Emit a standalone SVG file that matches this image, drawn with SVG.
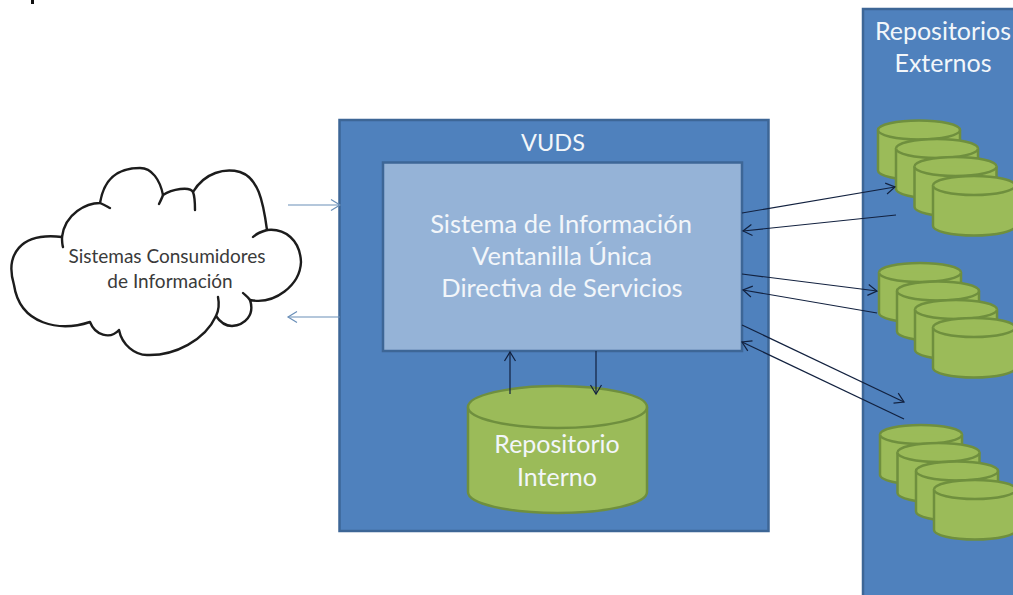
<svg xmlns="http://www.w3.org/2000/svg" width="1013" height="595" viewBox="0 0 1013 595">
<style>
.panel{fill:#4f81bd;stroke:#3d6696;stroke-width:2.5}
.inner{fill:#95b3d7;stroke:#3d6696;stroke-width:2.5}
.cyl{fill:#9bbb59;stroke:#6f8f3e;stroke-width:2.5}
.lbl{font-family:"Lato","Open Sans","Liberation Sans",sans-serif;fill:#f2f6fa;text-anchor:middle}
.big{font-size:25px}
.sys{font-size:25.500px}
.cloudtxt{font-family:"Lato","Open Sans","Liberation Sans",sans-serif;font-size:19px;fill:#3a3a3a;text-anchor:middle}
.dark{fill:none;stroke:#12213f;stroke-width:1.2;marker-end:url(#open)}
.blue{fill:none;stroke:#6a8fb8;stroke-width:1.2;marker-end:url(#openb)}
.cloud{fill:#fff;stroke:#1c1c1c;stroke-width:2.4;stroke-linecap:round;stroke-linejoin:round}
.tail{fill:none;stroke:#1c1c1c;stroke-width:2.4;stroke-linecap:round}
</style>
<defs>
<marker id="open" markerUnits="userSpaceOnUse" markerWidth="14" markerHeight="14" refX="11" refY="7" orient="auto"><path d="M2 1.500L11 7L2 12.500" fill="none" stroke="#12213f" stroke-width="1.2"/></marker>
<marker id="openb" markerUnits="userSpaceOnUse" markerWidth="14" markerHeight="14" refX="11" refY="7" orient="auto"><path d="M2 1.500L11 7L2 12.500" fill="none" stroke="#6a8fb8" stroke-width="1.2"/></marker>
<g id="c"><path class="cyl" d="M0 9.500V50A41 9.500 0 0 0 82 50V9.500A41 9.500 0 0 0 0 9.500Z"/><path class="cyl" d="M0 9.500A41 9.500 0 0 0 82 9.500"/></g>
</defs>
<rect width="1013" height="595" fill="#fff"/>
<rect x="31" y="0" width="3" height="4" fill="#111"/>

<g id="cloud-consumidores">
<path class="cloud" d="M62 237C65 213 87 203 100 203C105 172 125 168 140 168C152 168 160 180 163 195C172 189 190 186 193 192C205 172 225 168 240 172C258 178 263 200 267 230C285 228 300 240 301 262C300 285 275 305 250 300C255 315 245 325 232 326C225 326 220 322 216 316C205 340 175 356 147 355C135 355 122 345 119 330C110 340 95 335 90 322C60 332 20 325 14 285C5 255 20 232 62 237Z"/>
<path class="tail" d="M62 237C62 240 62 244 63 247"/>
<path class="tail" d="M100 203C105 205 108 207 110 208"/>
<path class="tail" d="M163 195C162 198 160 202 159 204"/>
<path class="tail" d="M193 192C195 197 195 205 195 210"/>
<path class="tail" d="M267 230C260 232 256 234 253 237"/>
<path class="tail" d="M250 300C248 297 245 295 243 293"/>
<path class="tail" d="M216 316C219 310 219 302 218 297"/>
<text class="cloudtxt" x="167" y="263">Sistemas Consumidores</text>
<text class="cloudtxt" x="170" y="288">de Información</text>
</g>

<g id="vuds">
<rect class="panel" x="339.500" y="120" width="429" height="411"/>
<text class="lbl" font-size="23.500" x="553" y="151">VUDS</text>
</g>
<g id="sistema">
<rect class="inner" x="383" y="162.500" width="359" height="188.500"/>
<text class="lbl sys" x="561" y="233">Sistema de Información</text>
<text class="lbl sys" x="562" y="265">Ventanilla Única</text>
<text class="lbl sys" x="562" y="297">Directiva de Servicios</text>
</g>
<g id="repositorio-interno">
<path class="cyl" d="M468 407V492A89.500 21 0 0 0 647 492V407A89.500 21 0 0 0 468 407Z"/>
<path class="cyl" d="M468 407A89.500 21 0 0 0 647 407"/>
<text class="lbl big" x="557" y="453">Repositorio</text>
<text class="lbl big" x="557" y="486">Interno</text>
</g>
<g id="repositorios-externos">
<path class="panel" d="M1016 9H863V600H1016Z"/>
<text class="lbl big" x="943" y="40">Repositorios</text>
<text class="lbl big" x="943" y="72">Externos</text>
</g>
<g id="ext-1">
<use href="#c" x="878" y="120.500"/><use href="#c" x="896" y="139"/><use href="#c" x="914.500" y="157"/><use href="#c" x="933" y="176"/>
</g>
<g id="ext-2">
<use href="#c" x="879" y="263"/><use href="#c" x="897" y="281.500"/><use href="#c" x="915" y="300"/><use href="#c" x="933" y="318"/>
</g>
<g id="ext-3">
<use href="#c" x="880" y="425"/><use href="#c" x="897.500" y="443"/><use href="#c" x="916" y="461.500"/><use href="#c" x="934" y="480"/>
</g>

<g id="connectors">
<path class="blue" d="M288 205H340"/>
<path class="blue" d="M340 317H288"/>
<path class="dark" d="M742 213L895 187"/>
<path class="dark" d="M896 215L743 231"/>
<path class="dark" d="M742 274L877 291"/>
<path class="dark" d="M877 313L743 290"/>
<path class="dark" d="M742 325L904 402"/>
<path class="dark" d="M904 419L742 342"/>
<path class="dark" d="M510 394V352"/>
<path class="dark" d="M596 351V394"/>
</g>
</svg>
